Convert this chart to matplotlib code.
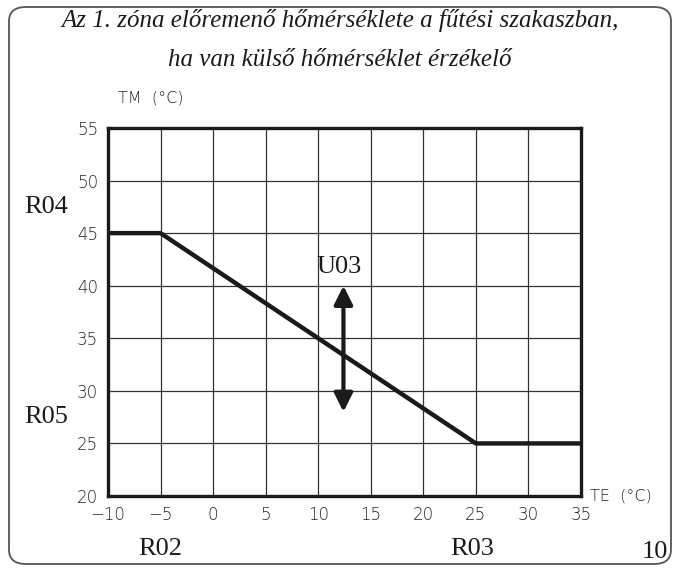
import matplotlib.pyplot as plt
from matplotlib.patches import FancyBboxPatch

# curve points (outside temp -> flow temp)
te = [-10, -5, 25, 35]
tm = [45, 45, 25, 25]
x_ticks = [-10, -5, 0, 5, 10, 15, 20, 25, 30, 35]
y_ticks = [20, 25, 30, 35, 40, 45, 50, 55]
title_lines = ["Az 1. zóna előremenő hőmérséklete a fűtési szakaszban,",
               "ha van külső hőmérséklet érzékelő"]

fig = plt.figure(figsize=(6.8, 5.7), dpi=100)
ax = fig.add_axes([108/680, 1-496/570, (581-108)/680, (496-128)/570])

# rounded frame around everything
frame = FancyBboxPatch((9/680, 6/570), 662/680, 557/570,
                       boxstyle="round,pad=0,rounding_size=0.025",
                       transform=fig.transFigure, fill=False,
                       edgecolor='#555555', linewidth=1.3)
fig.patches.append(frame)

ax.plot(te, tm, color='#1a1a1a', linewidth=3.2, solid_joinstyle='miter', zorder=3)

ax.set_xlim(-10, 35)
ax.set_ylim(20, 55)
ax.set_xticks(x_ticks)
ax.set_yticks(y_ticks)
ax.set_xticklabels(['\u2212' + str(-v) if v < 0 else str(v) for v in x_ticks])
ax.grid(True, color='#333333', linewidth=0.9)
ax.set_axisbelow(True)
for s in ax.spines.values():
    s.set_linewidth(2.4)
    s.set_color('#1a1a1a')
ax.tick_params(length=0, labelsize=12, colors='#222222', pad=7)
for lab in ax.get_xticklabels() + ax.get_yticklabels():
    lab.set_fontweight('light')

for ypix, line in zip([21, 60], title_lines):
    fig.text(0.5, 1-ypix/570, line, ha='center', va='center', fontsize=18,
             family='Liberation Serif', style='italic', color='#1a1a1a')

fig.text(118/680, 1-98/570, 'TM  (°C)', ha='left', va='center', fontsize=11.5,
         color='#222222', fontweight='light')
fig.text(590/680, 1-496/570, 'TE  (°C)', ha='left', va='center', fontsize=11.5,
         color='#222222', fontweight='light')

serif = dict(family='Liberation Serif', fontsize=19, color='#1a1a1a', va='center')
fig.text(46/680, 1-207/570, 'R04', ha='center', **serif)
fig.text(46/680, 1-417/570, 'R05', ha='center', **serif)
fig.text(160/680, 1-549/570, 'R02', ha='center', **serif)
fig.text(472/680, 1-549/570, 'R03', ha='center', **serif)
fig.text(655/680, 1-552/570, '10', ha='center', **serif)

# U03 double arrow
ax.annotate('', xy=(12.4, 40.0), xytext=(12.4, 28.0),
            arrowprops=dict(arrowstyle='<|-|>', color='#1a1a1a', lw=3,
                            mutation_scale=28, shrinkA=0, shrinkB=0), zorder=4)
ax.text(12.0, 41.8, 'U03', ha='center', va='center', family='Liberation Serif',
        fontsize=19, color='#1a1a1a')

fig.savefig('out.png', dpi=100)
